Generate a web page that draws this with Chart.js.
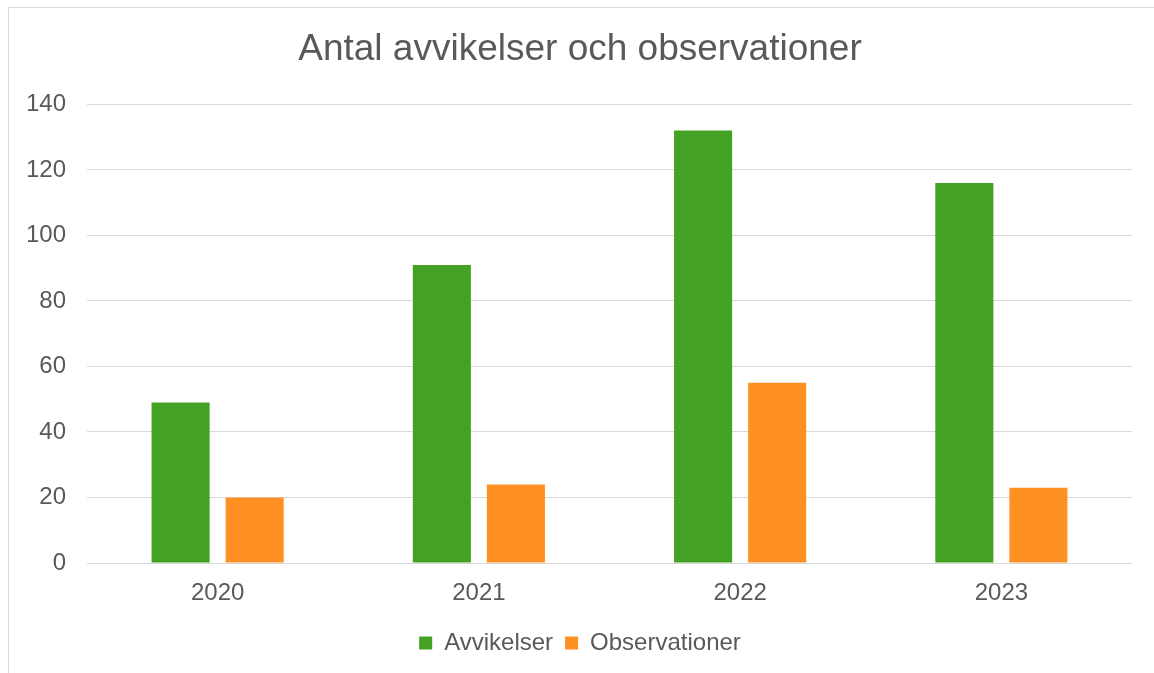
<!DOCTYPE html>
<html>
<head>
<meta charset="utf-8">
<script src="https://cdn.jsdelivr.net/npm/chart.js@4"></script>
<style>
    body { margin: 0; background: #fff; overflow: hidden; }
    #frame { position: absolute; left: 8px; top: 7px; width: 1200px; height: 700px; border: 1px solid #d9d9d9; }
    #chart { position: absolute; left: 0; top: 0; }
</style>
</head>
<body>
<div id="frame"></div>
<canvas id="chart" width="1154" height="673"></canvas>
<script>
// Dữ liệu
const years = ['2020', '2021', '2022', '2023'];
const avvikelser = [49, 91, 132, 116];
const observationer = [20, 24, 55, 23];
const yTicks = [0, 20, 40, 60, 80, 100, 120, 140];

const textColor = '#595959';
const gridColor = '#d9d9d9';
const fontFamily = 'Arial, "Liberation Sans", sans-serif';

const ctx = document.getElementById('chart').getContext('2d');
new Chart(ctx, {
    type: 'bar',
    data: {
        labels: years,
        datasets: [{
            label: 'Avvikelser',
            data: avvikelser,
            backgroundColor: '#43A123'
        }, {
            label: 'Observationer',
            data: observationer,
            backgroundColor: '#FF9124'
        }]
    },
    options: {
        responsive: false,
        animation: false,
        datasets: {
            bar: { categoryPercentage: 0.567, barPercentage: 0.784 }
        },
        layout: { padding: { left: 28, right: 22, top: 1, bottom: 8 } },
        scales: {
            x: {
                grid: { display: false },
                border: { display: false },
                ticks: { color: textColor, font: { family: fontFamily, size: 24 }, padding: 8 },
                afterFit: scale => { scale.height = 56; }
            },
            y: {
                min: 0,
                max: 140,
                afterBuildTicks: scale => { scale.ticks = yTicks.map(v => ({ value: v })); },
                grid: { color: gridColor, lineWidth: 1, drawTicks: false },
                border: { display: false },
                ticks: { color: textColor, font: { family: fontFamily, size: 24 }, padding: 21 },
                afterFit: scale => { scale.width = 59; }
            }
        },
        plugins: {
            title: {
                display: true,
                text: 'Antal avvikelser och observationer',
                color: textColor,
                font: { family: fontFamily, size: 37, weight: 'normal' },
                padding: { top: 27, bottom: 32 }
            },
            legend: {
                position: 'bottom',
                labels: {
                    color: textColor,
                    font: { family: fontFamily, size: 24 },
                    boxWidth: 13,
                    boxHeight: 13,
                    padding: 12
                }
            },
            tooltip: { enabled: false }
        }
    }
});
</script>
</body>
</html>
